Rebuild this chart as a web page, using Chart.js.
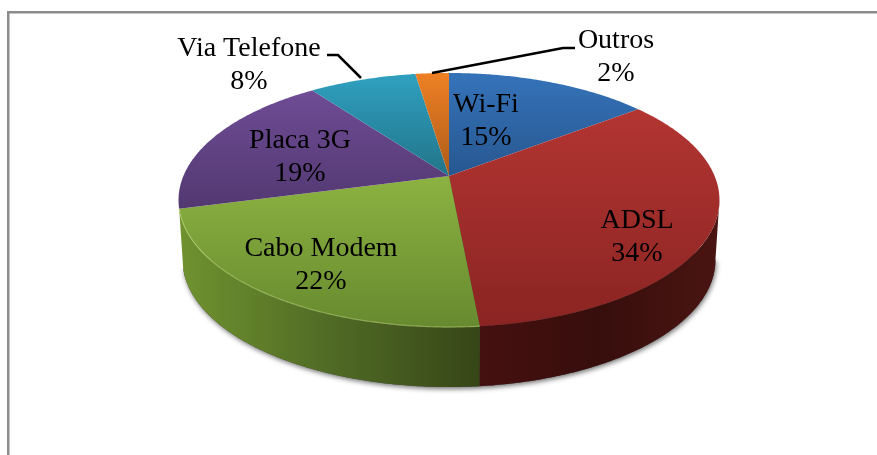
<!DOCTYPE html>
<html>
<head>
<meta charset="utf-8">
<style>
  html, body { margin: 0; padding: 0; background: #fff; overflow: hidden; }
  canvas { display: block; }
</style>
<script src="https://cdn.jsdelivr.net/npm/chart.js@4/dist/chart.umd.min.js"></script>
</head>
<body>
<canvas id="chart" width="877" height="455"></canvas>
<script>
const categories = ['Wi-Fi', 'ADSL', 'Cabo Modem', 'Placa 3G', 'Via Telefone', 'Outros'];
// the labels show them rounded
const shares = [14.6, 33.9, 22.4, 19, 7.7, 2.4];

// top face gradient, light to dark
const topColors = [
  ['#3573b9', '#275790'],
  ['#b33532', '#8a2422'],
  ['#8cb241', '#678a2f'],
  ['#6f4c95', '#523871'],
  ['#30a0c0', '#217489'],
  ['#ee8024', '#ad5b1a']
];
// wall gradient, left to right
const wallColors = [
  ['#2a4f7d', '#2a4f7d', '#2a4f7d'],
  ['#45100f', '#370e0c', '#4a1512'],
  ['#70922f', '#506b25', '#364617'],
  ['#4a3266', '#4a3266', '#4a3266'],
  ['#1c6478', '#1c6478', '#1c6478'],
  ['#a0541a', '#a0541a', '#a0541a']
];
const labelSpots = [[486, 105], [637, 221], [321, 249], [300, 141], [249, 49], [616, 41]];

// perspective of the disc, fitted on the picture
const apex = { x: 449, y: 176 };
const radiusX = 265.6, radiusY = 122.5, tilt = 0.189;
const depth = 60, lowerScale = 0.985;

function project(theta, lower) {
  const u = Math.sin(theta), v = Math.cos(theta);
  const w = 1 + tilt * v;
  const sx = lower ? lowerScale : 1;
  return {
    x: apex.x + sx * radiusX * u / w,
    y: apex.y - radiusY * v / w + (lower ? depth : 0)
  };
}

function sweep(from, to) {
  const pts = [];
  const n = Math.max(2, Math.ceil(Math.abs(to - from) / 0.01));
  for (let i = 0; i <= n; i++) pts.push(from + (to - from) * i / n);
  return pts;
}

const pie3d = {
  id: 'pie3d',
  beforeDatasetDraw(chart) {
    const ctx = chart.ctx;
    const arcs = chart.getDatasetMeta(0).data;
    const slices = arcs.map(a => ({ start: a.startAngle + Math.PI / 2, end: a.endAngle + Math.PI / 2 }));
    const first = 100.9 * Math.PI / 180, last = slices[2].end;

    // soft shadow under the wall
    ctx.save();
    ctx.shadowColor = 'rgba(0,0,0,0.55)';
    ctx.shadowBlur = 5;
    ctx.shadowOffsetX = 1;
    ctx.shadowOffsetY = 2;
    ctx.fillStyle = '#444';
    ctx.beginPath();
    sweep(first, last).forEach((t, i) => {
      const p = project(t, true);
      i ? ctx.lineTo(p.x, p.y) : ctx.moveTo(p.x, p.y);
    });
    ctx.lineTo(apex.x, apex.y);
    ctx.closePath();
    ctx.fill();
    ctx.restore();

    // walls
    slices.forEach((s, i) => {
      const a = Math.max(s.start, first), b = Math.min(s.end, last);
      if (a >= b) return;
      const angles = sweep(a, b);
      const upper = angles.map(t => project(t, false));
      const lower = angles.map(t => project(t, true)).reverse();
      const xs = upper.concat(lower).map(p => p.x);
      const g = ctx.createLinearGradient(Math.min(...xs), 0, Math.max(...xs), 0);
      g.addColorStop(0, wallColors[i][0]);
      g.addColorStop(0.5, wallColors[i][1]);
      g.addColorStop(1, wallColors[i][2]);
      ctx.fillStyle = g;
      ctx.beginPath();
      upper.concat(lower).forEach((p, k) => k ? ctx.lineTo(p.x, p.y) : ctx.moveTo(p.x, p.y));
      ctx.closePath();
      ctx.fill();
    });

    // top faces
    slices.forEach((s, i) => {
      const pts = sweep(s.start, s.end).map(t => project(t, false));
      pts.push(apex);
      const ys = pts.map(p => p.y);
      const g = ctx.createLinearGradient(0, Math.min(...ys), 0, Math.max(...ys));
      g.addColorStop(0, topColors[i][0]);
      g.addColorStop(1, topColors[i][1]);
      ctx.fillStyle = g;
      ctx.beginPath();
      pts.forEach((p, k) => k ? ctx.lineTo(p.x, p.y) : ctx.moveTo(p.x, p.y));
      ctx.closePath();
      ctx.fill();
    });

    // bevel along the front rim
    ctx.save();
    ctx.lineWidth = 1.2;
    ctx.strokeStyle = 'rgba(190,215,120,0.55)';
    ctx.beginPath();
    sweep(slices[2].start, slices[2].end).forEach((t, i) => {
      const p = project(t, false);
      i ? ctx.lineTo(p.x, p.y) : ctx.moveTo(p.x, p.y);
    });
    ctx.stroke();
    ctx.restore();

    return false;
  },
  afterDraw(chart) {
    const ctx = chart.ctx;
    const values = chart.data.datasets[0].data;

    // frame
    ctx.save();
    ctx.strokeStyle = '#8c8c8c';
    ctx.lineWidth = 2.5;
    ctx.beginPath();
    ctx.moveTo(8.25, 455);
    ctx.lineTo(8.25, 12.25);
    ctx.lineTo(877, 12.25);
    ctx.stroke();

    // leader lines
    ctx.strokeStyle = '#000';
    ctx.lineWidth = 2.5;
    ctx.beginPath();
    ctx.moveTo(327, 55);
    ctx.lineTo(338, 55);
    ctx.lineTo(361, 78);
    ctx.moveTo(575, 48);
    ctx.lineTo(563, 48);
    ctx.lineTo(432, 73);
    ctx.stroke();

    ctx.fillStyle = '#000';
    ctx.font = '28px "Liberation Serif"';
    ctx.textAlign = 'center';
    ctx.textBaseline = 'middle';
    chart.data.labels.forEach((name, i) => {
      const [x, y] = labelSpots[i];
      ctx.fillText(name, x, y);
      ctx.fillText(Math.round(values[i]) + '%', x, y + 33);
    });
    ctx.restore();
  }
};

new Chart(document.getElementById('chart').getContext('2d'), {
  type: 'pie',
  data: {
    labels: categories,
    datasets: [{ data: shares, borderWidth: 0 }]
  },
  options: {
    responsive: false,
    animation: false,
    plugins: { legend: { display: false }, tooltip: { enabled: false } }
  },
  plugins: [pie3d]
});
</script>
</body>
</html>
